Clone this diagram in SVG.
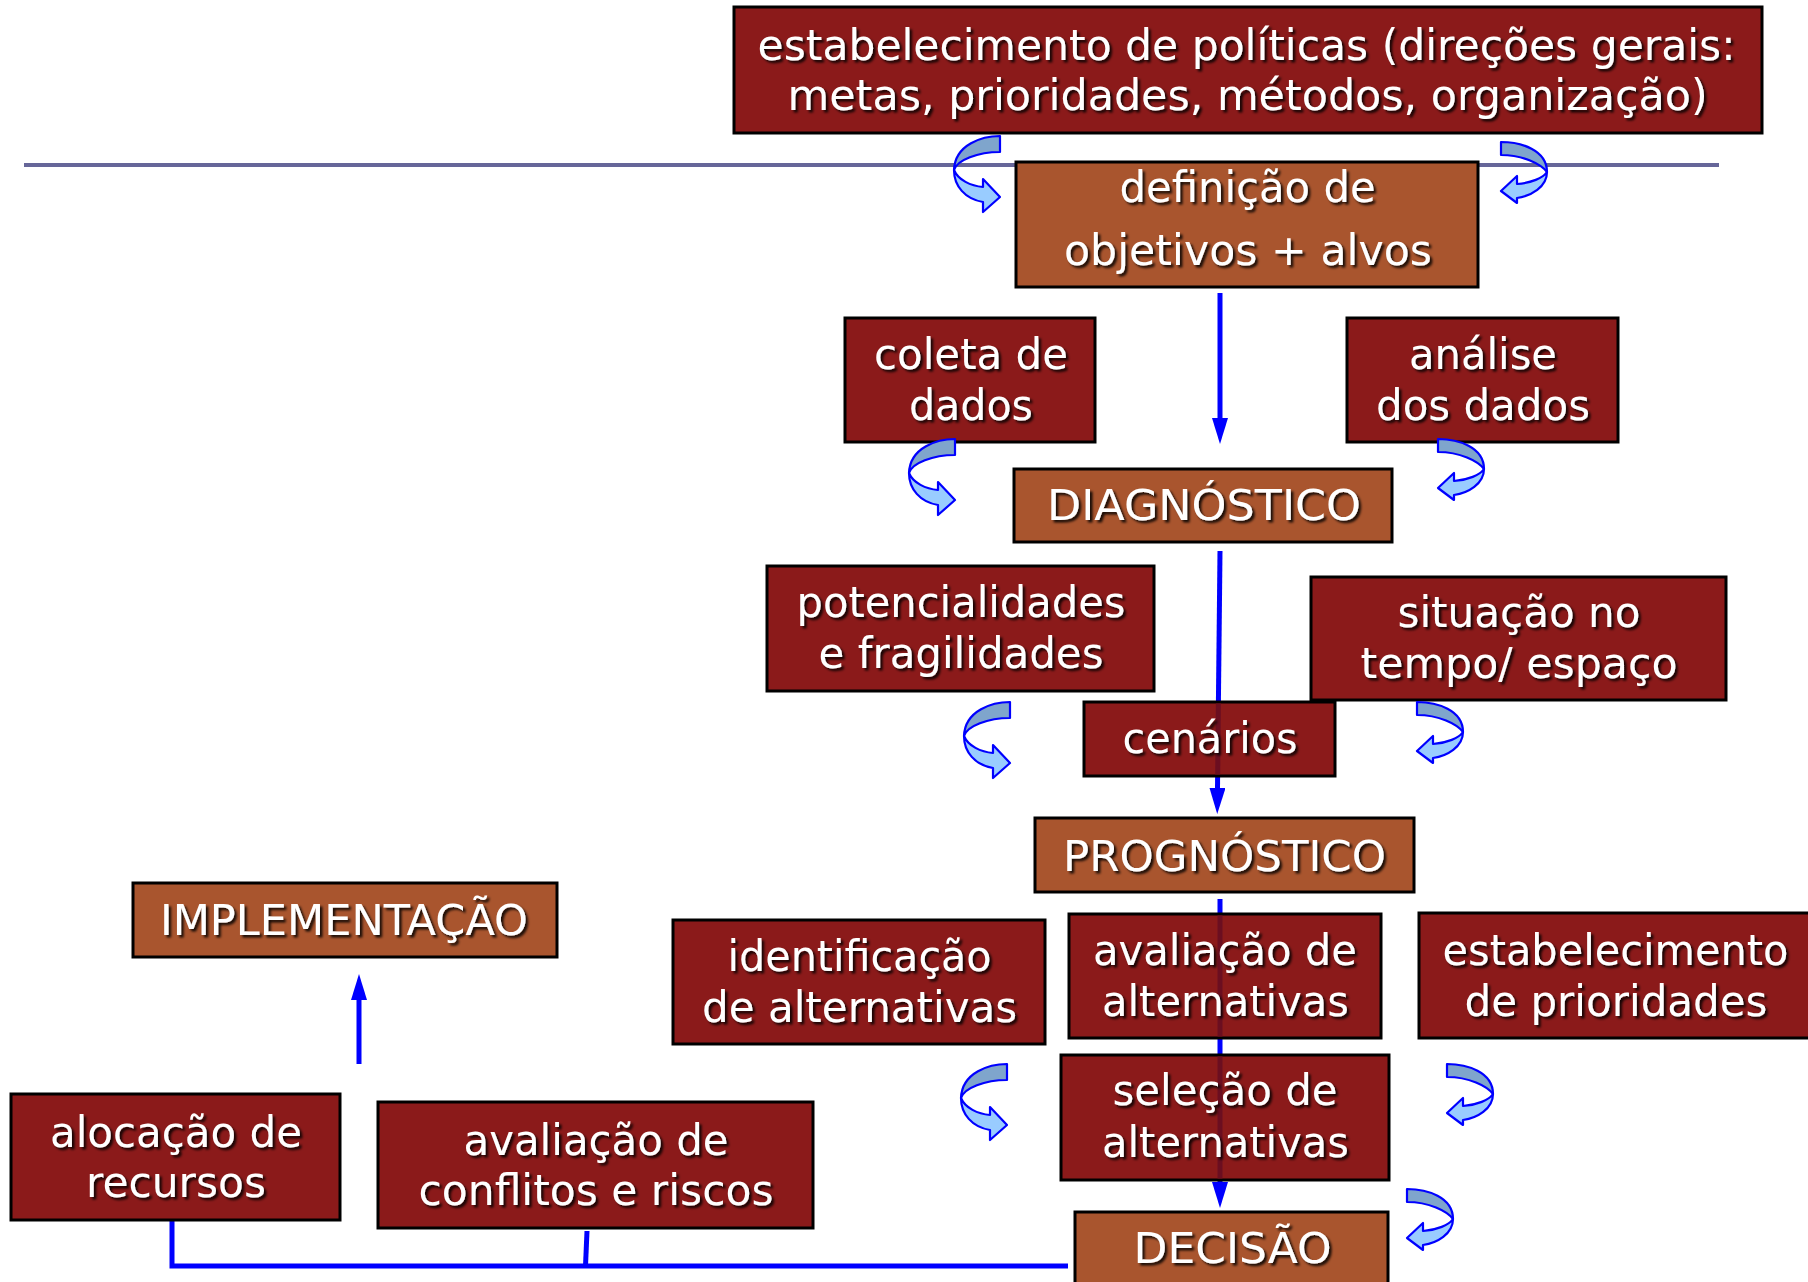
<svg xmlns="http://www.w3.org/2000/svg" xmlns:xlink="http://www.w3.org/1999/xlink" width="1808" height="1282" viewBox="0 0 1808 1282">
<style>
.red{fill:#8B1A1A;stroke:#000;stroke-width:3}
.brown{fill:#A9552E;stroke:#000;stroke-width:3}
.t{font-family:"DejaVu Sans",Verdana,sans-serif;font-size:42px;fill:#fff;text-anchor:middle}
.c{stroke:#0000FF;stroke-width:5;fill:none}
.thru{stroke:#6B0E20;stroke-width:5;fill:none}
.dk{fill:#7FA5CC;stroke:#0000FF;stroke-width:2.2;stroke-linejoin:round}
.lt{fill:#99CCFF;stroke:#0000FF;stroke-width:2.2;stroke-linejoin:round}
</style>
<defs>
<filter id="sh" x="-5%" y="-30%" width="110%" height="160%">
<feDropShadow dx="2.5" dy="2.5" stdDeviation="0.8" flood-color="#000" flood-opacity="0.85"/>
</filter>
<marker id="ah" markerUnits="userSpaceOnUse" markerWidth="26" markerHeight="16" refX="0" refY="8" orient="auto">
<path d="M0,0 L26,8 L0,16 Z" fill="#0000FF"/>
</marker>
<g id="cl">
<path class="dk" d="M47,0 C30,0 2,8 1,34 C4,24 25,16 47,16 Z"/>
<path class="lt" d="M1,34 C5,44 18,50 30,51 L30,43 L47,61 L30,76 L30,66 C12,63 1,50 1,34 Z"/>
</g>
<g id="cr">
<path class="dk" d="M0,0 C20,0 46,8 46,30 C40,22 22,13 0,13 Z"/>
<path class="lt" d="M46,30 C46,45 30,54 16,56 L16,61 L0,49 L16,34 L16,42 C30,41 42,36 46,30 Z"/>
</g>
</defs>
<rect width="1808" height="1282" fill="#fff"/>
<line x1="24" y1="165" x2="1719" y2="165" stroke="#666699" stroke-width="4"/>

<g id="connectors">
<path class="c" d="M1220,293 V418" marker-end="url(#ah)"/>
<path class="c" d="M1220,551 L1217.5,788" marker-end="url(#ah)"/>
<path class="c" d="M1220,899 V1182" marker-end="url(#ah)"/>
<path class="c" d="M359,1064 V1000" marker-end="url(#ah)"/>
<path class="c" d="M172,1221 V1266 H1068"/>
<path class="c" d="M587,1231 L585.5,1266"/>
</g>

<g id="nodes">
<g id="n-politicas">
<rect class="red" x="734" y="7" width="1028" height="126"/>
<g filter="url(#sh)"><text class="t" x="1246.5" y="60" textLength="978" lengthAdjust="spacingAndGlyphs">estabelecimento de políticas (direções gerais:</text>
<text class="t" x="1247.6" y="110" textLength="920" lengthAdjust="spacingAndGlyphs">metas, prioridades, métodos, organização)</text></g>
</g>
<g id="n-objetivos">
<rect class="brown" x="1016" y="162" width="462" height="125"/>
<g filter="url(#sh)"><text class="t" x="1247.6" y="202" textLength="256" lengthAdjust="spacingAndGlyphs">definição de</text>
<text class="t" x="1248" y="265" textLength="368" lengthAdjust="spacingAndGlyphs">objetivos + alvos</text></g>
</g>
<g id="n-coleta">
<rect class="red" x="845" y="318" width="250" height="124"/>
<g filter="url(#sh)"><text class="t" x="971" y="369" textLength="194" lengthAdjust="spacingAndGlyphs">coleta de</text>
<text class="t" x="971" y="420" textLength="124" lengthAdjust="spacingAndGlyphs">dados</text></g>
</g>
<g id="n-analise">
<rect class="red" x="1347" y="318" width="271" height="124"/>
<g filter="url(#sh)"><text class="t" x="1483" y="369" textLength="148" lengthAdjust="spacingAndGlyphs">análise</text>
<text class="t" x="1483" y="420" textLength="214" lengthAdjust="spacingAndGlyphs">dos dados</text></g>
</g>
<g id="n-diagnostico">
<rect class="brown" x="1014" y="469" width="378" height="73"/>
<g filter="url(#sh)"><text class="t" x="1204" y="520" textLength="314" lengthAdjust="spacingAndGlyphs">DIAGNÓSTICO</text></g>
</g>
<g id="n-potencialidades">
<rect class="red" x="767" y="566" width="387" height="125"/>
<g filter="url(#sh)"><text class="t" x="961" y="617" textLength="329" lengthAdjust="spacingAndGlyphs">potencialidades</text>
<text class="t" x="961" y="668" textLength="285" lengthAdjust="spacingAndGlyphs">e fragilidades</text></g>
</g>
<g id="n-situacao">
<rect class="red" x="1311" y="577" width="415" height="123"/>
<g filter="url(#sh)"><text class="t" x="1519" y="627" textLength="243" lengthAdjust="spacingAndGlyphs">situação no</text>
<text class="t" x="1519" y="678" textLength="317" lengthAdjust="spacingAndGlyphs">tempo/ espaço</text></g>
</g>
<g id="n-cenarios">
<rect class="red" x="1084" y="702" width="251" height="74"/>
<path class="thru" d="M1218.4,703.5 L1217.7,774.5"/>
<g filter="url(#sh)"><text class="t" x="1210" y="753" textLength="175" lengthAdjust="spacingAndGlyphs">cenários</text></g>
</g>
<g id="n-prognostico">
<rect class="brown" x="1035" y="818" width="379" height="74"/>
<g filter="url(#sh)"><text class="t" x="1224.5" y="871" textLength="323" lengthAdjust="spacingAndGlyphs">PROGNÓSTICO</text></g>
</g>
<g id="n-identificacao">
<rect class="red" x="673" y="920" width="372" height="124"/>
<g filter="url(#sh)"><text class="t" x="859.6" y="971" textLength="264" lengthAdjust="spacingAndGlyphs">identificação</text>
<text class="t" x="859.6" y="1022" textLength="315" lengthAdjust="spacingAndGlyphs">de alternativas</text></g>
</g>
<g id="n-avaliacao-alt">
<rect class="red" x="1069" y="914" width="312" height="124"/>
<path class="thru" d="M1220,915.5 V1036.5"/>
<g filter="url(#sh)"><text class="t" x="1225" y="965" textLength="264" lengthAdjust="spacingAndGlyphs">avaliação de</text>
<text class="t" x="1225.5" y="1016" textLength="247" lengthAdjust="spacingAndGlyphs">alternativas</text></g>
</g>
<g id="n-prioridades">
<rect class="red" x="1419" y="913" width="401" height="125"/>
<g filter="url(#sh)"><text class="t" x="1615.5" y="965" textLength="346" lengthAdjust="spacingAndGlyphs">estabelecimento</text>
<text class="t" x="1616" y="1016" textLength="303" lengthAdjust="spacingAndGlyphs">de prioridades</text></g>
</g>
<g id="n-selecao">
<rect class="red" x="1061" y="1055" width="328" height="125"/>
<path class="thru" d="M1220,1056.5 V1178.5"/>
<g filter="url(#sh)"><text class="t" x="1225" y="1105" textLength="225" lengthAdjust="spacingAndGlyphs">seleção de</text>
<text class="t" x="1225.5" y="1157" textLength="247" lengthAdjust="spacingAndGlyphs">alternativas</text></g>
</g>
<g id="n-decisao">
<rect class="brown" x="1075" y="1212" width="313" height="83"/>
<g filter="url(#sh)"><text class="t" x="1232.6" y="1263" textLength="198" lengthAdjust="spacingAndGlyphs">DECISÃO</text></g>
</g>
<g id="n-implementacao">
<rect class="brown" x="133" y="883" width="424" height="74"/>
<g filter="url(#sh)"><text class="t" x="344" y="935" textLength="368" lengthAdjust="spacingAndGlyphs">IMPLEMENTAÇÃO</text></g>
</g>
<g id="n-alocacao">
<rect class="red" x="11" y="1094" width="329" height="126"/>
<g filter="url(#sh)"><text class="t" x="176" y="1147" textLength="252" lengthAdjust="spacingAndGlyphs">alocação de</text>
<text class="t" x="176" y="1197" textLength="180" lengthAdjust="spacingAndGlyphs">recursos</text></g>
</g>
<g id="n-conflitos">
<rect class="red" x="378" y="1102" width="435" height="126"/>
<g filter="url(#sh)"><text class="t" x="596" y="1155" textLength="265" lengthAdjust="spacingAndGlyphs">avaliação de</text>
<text class="t" x="596" y="1205" textLength="355" lengthAdjust="spacingAndGlyphs">conflitos e riscos</text></g>
</g>
</g>

<g id="cycles">
<use xlink:href="#cl" href="#cl" x="953" y="136"/>
<use xlink:href="#cr" href="#cr" x="1501" y="142"/>
<use xlink:href="#cl" href="#cl" x="908" y="439"/>
<use xlink:href="#cr" href="#cr" x="1438" y="439"/>
<use xlink:href="#cl" href="#cl" x="963" y="702"/>
<use xlink:href="#cr" href="#cr" x="1417" y="702"/>
<use xlink:href="#cl" href="#cl" x="960" y="1064"/>
<use xlink:href="#cr" href="#cr" x="1447" y="1064"/>
<use xlink:href="#cr" href="#cr" x="1407" y="1189"/>
</g>
</svg>
